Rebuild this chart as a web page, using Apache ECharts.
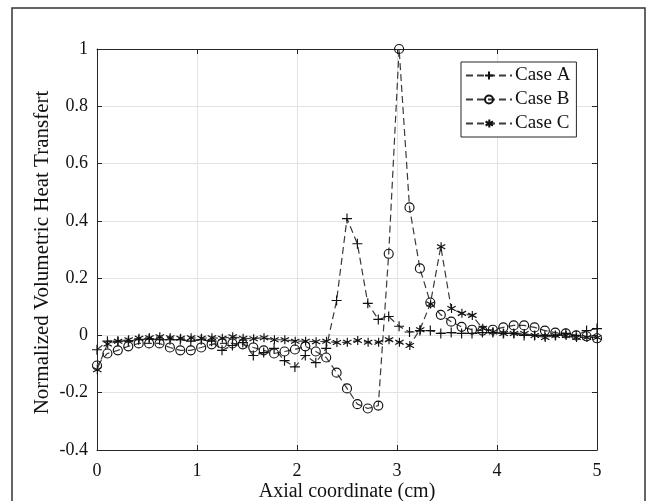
<!DOCTYPE html>
<html>
<head>
<meta charset="utf-8">
<script src="https://cdn.jsdelivr.net/npm/echarts@6/dist/echarts.min.js"></script>
<style>
  html, body { margin: 0; padding: 0; background: #fff; }
  #chart { width: 657px; height: 501px; }
</style>
</head>
<body>
<div id="chart"></div>
<script>
// Axial sample positions (cm)
const axialPos = [0, 0.104, 0.208, 0.313, 0.417, 0.521, 0.625, 0.729, 0.833, 0.938,
  1.042, 1.146, 1.25, 1.354, 1.458, 1.563, 1.667, 1.771, 1.875, 1.979,
  2.083, 2.188, 2.292, 2.396, 2.5, 2.604, 2.708, 2.813, 2.917, 3.021,
  3.125, 3.229, 3.333, 3.438, 3.542, 3.646, 3.75, 3.854, 3.958, 4.063,
  4.167, 4.271, 4.375, 4.479, 4.583, 4.688, 4.792, 4.896, 5.0];

// Normalized volumetric heat transfer per case
const caseA = [-0.05, -0.02, -0.02, -0.02, -0.015, -0.012, -0.015, -0.015, -0.015, -0.02,
  -0.015, -0.02, -0.052, -0.035, -0.025, -0.07, -0.06, -0.045, -0.088, -0.11,
  -0.07, -0.095, -0.045, 0.122, 0.408, 0.32, 0.112, 0.056, 0.066, 0.032,
  0.012, 0.017, 0.017, 0.007, 0.01, 0.007, 0.007, 0.01, 0.01, 0.007,
  0.007, 0.0, 0.0, 0.0, 0.0, 0.007, 0.0, 0.017, 0.024];

const caseB = [-0.105, -0.063, -0.052, -0.038, -0.028, -0.028, -0.028, -0.042, -0.052, -0.052,
  -0.042, -0.031, -0.028, -0.028, -0.031, -0.042, -0.052, -0.063, -0.056, -0.049,
  -0.038, -0.056, -0.077, -0.13, -0.185, -0.24, -0.255, -0.245, 0.285, 1.0,
  0.447, 0.234, 0.115, 0.072, 0.048, 0.03, 0.02, 0.017, 0.02, 0.028,
  0.035, 0.035, 0.028, 0.017, 0.01, 0.007, 0.0, -0.003, -0.01];

const caseC = [-0.12, -0.03, -0.02, -0.015, -0.01, -0.008, -0.005, -0.008, -0.01, -0.008,
  -0.01, -0.008, -0.01, -0.005, -0.01, -0.012, -0.008, -0.015, -0.015, -0.02,
  -0.02, -0.022, -0.02, -0.025, -0.024, -0.018, -0.024, -0.024, -0.015, -0.024,
  -0.035, 0.02, 0.11, 0.31, 0.094, 0.077, 0.07, 0.025, 0.012, 0.007,
  0.007, 0.007, 0.0, -0.007, 0.0, 0.0, -0.007, -0.007, -0.007];

const seriesNames = ['Case A', 'Case B', 'Case C'];

const FONT = '"Liberation Serif", "DejaVu Serif", serif';
const INK = '#262626';
const LINE = '#3a3a3a';

const plusPath = 'path://M0,5L10,5M5,0L5,10';
const starPath = 'path://M5,0L5,10M0.67,2.5L9.33,7.5M0.67,7.5L9.33,2.5M0,5L0,5';

function pairs(vals) {
  return axialPos.map((x, i) => [x, vals[i]]);
}

function makeSeries(name, vals, symbol, size) {
  return {
    name: name,
    type: 'line',
    data: pairs(vals),
    symbol: symbol,
    symbolSize: size,
    showAllSymbol: true,
    animation: false,
    lineStyle: { color: LINE, width: 1.2, type: [7, 4] },
    itemStyle: { color: 'rgba(0,0,0,0)', borderColor: '#111', borderWidth: 1.15 },
    emphasis: { disabled: true },
    z: 3
  };
}

const chart = echarts.init(document.getElementById('chart'), null, { renderer: 'canvas' });

// box edges on top and right, ticks only
const boxAxisCommon = {
  axisLine: { show: true, onZero: false, lineStyle: { color: INK, width: 1 } },
  axisTick: { show: true, inside: true, length: 5, lineStyle: { color: INK } },
  axisLabel: { show: false },
  splitLine: { show: false }
};

chart.setOption({
  backgroundColor: '#fff',
  animation: false,
  grid: {
    left: 97, top: 49, width: 500, height: 401,
    containLabel: false, outerBoundsMode: 'none'
  },
  legend: {
    data: seriesNames,
    orient: 'vertical',
    left: 461,
    top: 62,
    itemWidth: 46,
    itemHeight: 10,
    itemGap: 5,
    padding: [4, 6, 4, 4],
    borderColor: INK,
    borderWidth: 1,
    backgroundColor: '#fff',
    selectedMode: false,
    textStyle: { fontFamily: FONT, fontSize: 19, color: '#111', padding: [0, 0, 0, -2] }
  },
  xAxis: [{
    type: 'value',
    min: 0, max: 5, interval: 1,
    position: 'bottom',
    name: 'Axial coordinate (cm)',
    nameLocation: 'middle',
    nameGap: 32,
    nameMoveOverlap: false,
    nameTextStyle: { fontFamily: FONT, fontSize: 20, color: '#111' },
    axisLine: { show: true, onZero: false, lineStyle: { color: INK, width: 1 } },
    axisTick: { show: true, inside: true, length: 5, lineStyle: { color: INK } },
    axisLabel: { fontFamily: FONT, fontSize: 18, color: '#111', margin: 12 },
    splitLine: { show: true, lineStyle: { color: '#e3e3e3', width: 1 } }
  }, Object.assign({
    type: 'value', min: 0, max: 5, interval: 1, position: 'top'
  }, boxAxisCommon)],
  yAxis: [{
    type: 'value',
    min: -0.4, max: 1, interval: 0.2,
    position: 'left',
    name: 'Normalized Volumetric Heat Transfert',
    nameLocation: 'middle',
    nameGap: 44,
    nameMoveOverlap: false,
    nameTextStyle: { fontFamily: FONT, fontSize: 21, color: '#111', padding: [0, 0, 0, -6] },
    axisLine: { show: true, onZero: false, lineStyle: { color: INK, width: 1 } },
    axisTick: { show: true, inside: true, length: 5, lineStyle: { color: INK } },
    axisLabel: {
      fontFamily: FONT, fontSize: 18, color: '#111', margin: 9,
      formatter: v => String(+v.toFixed(1))
    },
    splitLine: { show: true, lineStyle: { color: '#e3e3e3', width: 1 } }
  }, Object.assign({
    type: 'value', min: -0.4, max: 1, interval: 0.2, position: 'right'
  }, boxAxisCommon)],
  graphic: [{
    type: 'rect',
    shape: { x: 12, y: 8, width: 633, height: 520 },
    style: { fill: 'none', stroke: '#333', lineWidth: 1.5 },
    silent: true,
    z: -10
  }],
  series: [
    makeSeries(seriesNames[0], caseA, plusPath, 10),
    makeSeries(seriesNames[1], caseB, 'circle', 9),
    makeSeries(seriesNames[2], caseC, starPath, 9)
  ]
});
</script>
</body>
</html>
